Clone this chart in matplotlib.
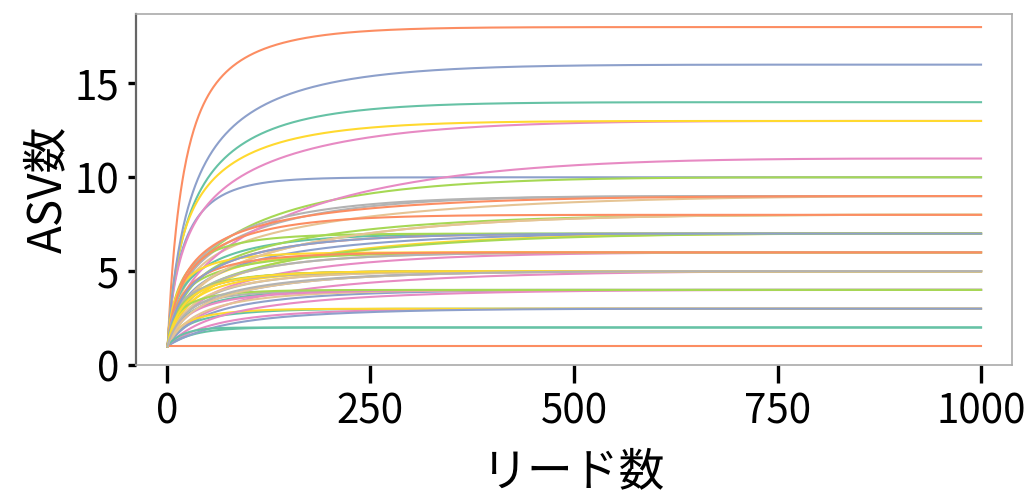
import numpy as np
import matplotlib
matplotlib.use("Agg")
import matplotlib.pyplot as plt

plt.rcParams['font.family'] = ['Noto Sans CJK JP', 'DejaVu Sans']

# reads per sample (all samples rarefied to the same depth)
depth = 1000

# read counts of the minor ASVs in each sample; the dominant ASV takes the rest
minor_counts = [
    [120, 90, 70, 50, 40, 30, 25, 20, 15, 12, 10, 8, 6],
    [110, 90, 80, 70, 60, 55, 50, 45, 40, 35, 30, 25, 20, 15, 12, 10, 8],
    [150, 100, 70, 50, 40, 30, 25, 20, 15],
    [150, 100, 70, 50, 35, 25, 18, 12, 8, 6, 5, 4],
    [120, 60, 35, 20, 12, 8, 6, 5, 4],
    [130, 100, 80, 60, 45, 35, 25, 18, 14, 10, 8, 6],
    [100, 60, 40, 25, 12, 6, 4, 2],
    [150, 80, 40, 20, 12, 8, 6, 5],
    [200, 90, 40, 20, 12, 8],
    [120, 60, 30, 15, 9, 6],
    [100, 80, 60, 50, 40, 35, 30, 25, 20, 15, 12, 10, 8, 6, 5],
    [100, 50, 25, 12, 8, 6, 5, 4, 3, 3],
    [90, 50, 30, 15, 8, 5, 3],
    [80, 40, 25, 15, 10],
    [70, 40, 20, 10, 6, 4, 3],
    [60, 30, 15, 8],
    [100, 50, 25, 12],
    [150, 60, 25, 12],
    [100, 50, 25, 12, 6, 4],
    [60, 30, 12, 6, 4],
    [150, 100, 60, 35, 20, 12],
    [80, 30, 15, 8, 5, 3],
    [80, 40, 20, 10, 6],
    [120, 70, 40, 25, 15, 10, 7, 5],
    [80, 30, 12],
    [150, 80, 50, 30, 20, 10, 6, 3],
    [60, 25, 10, 5],
    [40, 15, 6, 3],
    [150, 80, 40, 15, 8],
    [200, 120, 60, 30, 15],
    [90, 45, 20, 10, 6, 4, 3],
    [100, 40, 15],
    [60, 15],
    [150, 80, 45, 25, 15, 10, 8],
    [40, 15, 6],
    [25, 8],
    [90, 45, 20, 8, 4, 3],
    [80, 20],
    [70, 35, 15, 8],
    [100, 50, 20, 10, 6],
    [30],
    [120, 70, 40, 20, 10],
    [20, 6],
    [30, 10, 4],
    [120, 60, 30, 12],
    [90, 40, 20, 10],
    [50, 20, 8],
    [200, 80, 30, 10],
    [50],
    [],
    [120, 60, 30, 15, 9, 6],
    [70, 30, 10],
    [150, 60, 20],
    [100, 50, 25, 12],
    [60, 25, 10, 5],
    [80, 30, 12, 5],
]

xticks = [0, 250, 500, 750, 1000]
yticks = [0, 5, 10, 15]


def rarefy(counts, total):
    # expected number of ASVs when drawing n reads without replacement
    k = np.arange(total)
    n = k + 1
    expected = np.zeros(total)
    for c in counts:
        miss = np.cumprod(np.clip((total - c - k) / (total - k), 0, None))
        expected += 1 - miss
    return n, expected


colors = plt.get_cmap('Set2').colors

fig, ax = plt.subplots(figsize=(10.3, 4.98), dpi=100)
fig.subplots_adjust(left=0.132, right=0.9825, top=0.972, bottom=0.267)

for i, minors in enumerate(minor_counts):
    counts = [depth - sum(minors)] + minors
    n, s = rarefy(counts, depth)
    ax.plot(n, s, color=colors[i % 8], lw=1.5)

ax.set_xlim(-38, 1038)
ax.set_ylim(0, 18.7)
ax.set_xticks(xticks)
ax.set_yticks(yticks)
ax.tick_params(axis='both', labelsize=29, color='black', width=2.4)
ax.tick_params(axis='y', length=6, pad=6)
ax.tick_params(axis='x', length=13, pad=6)

for side in ['top', 'right', 'bottom']:
    ax.spines[side].set_color('#aaaaaa')
    ax.spines[side].set_linewidth(1.2)
ax.spines['left'].set_color('#666666')
ax.spines['left'].set_linewidth(1.6)

ax.set_xlabel('リード数', fontsize=33, labelpad=11)
ax.set_ylabel('ASV数', fontsize=33, labelpad=2)

fig.savefig('out.png', dpi=100)
